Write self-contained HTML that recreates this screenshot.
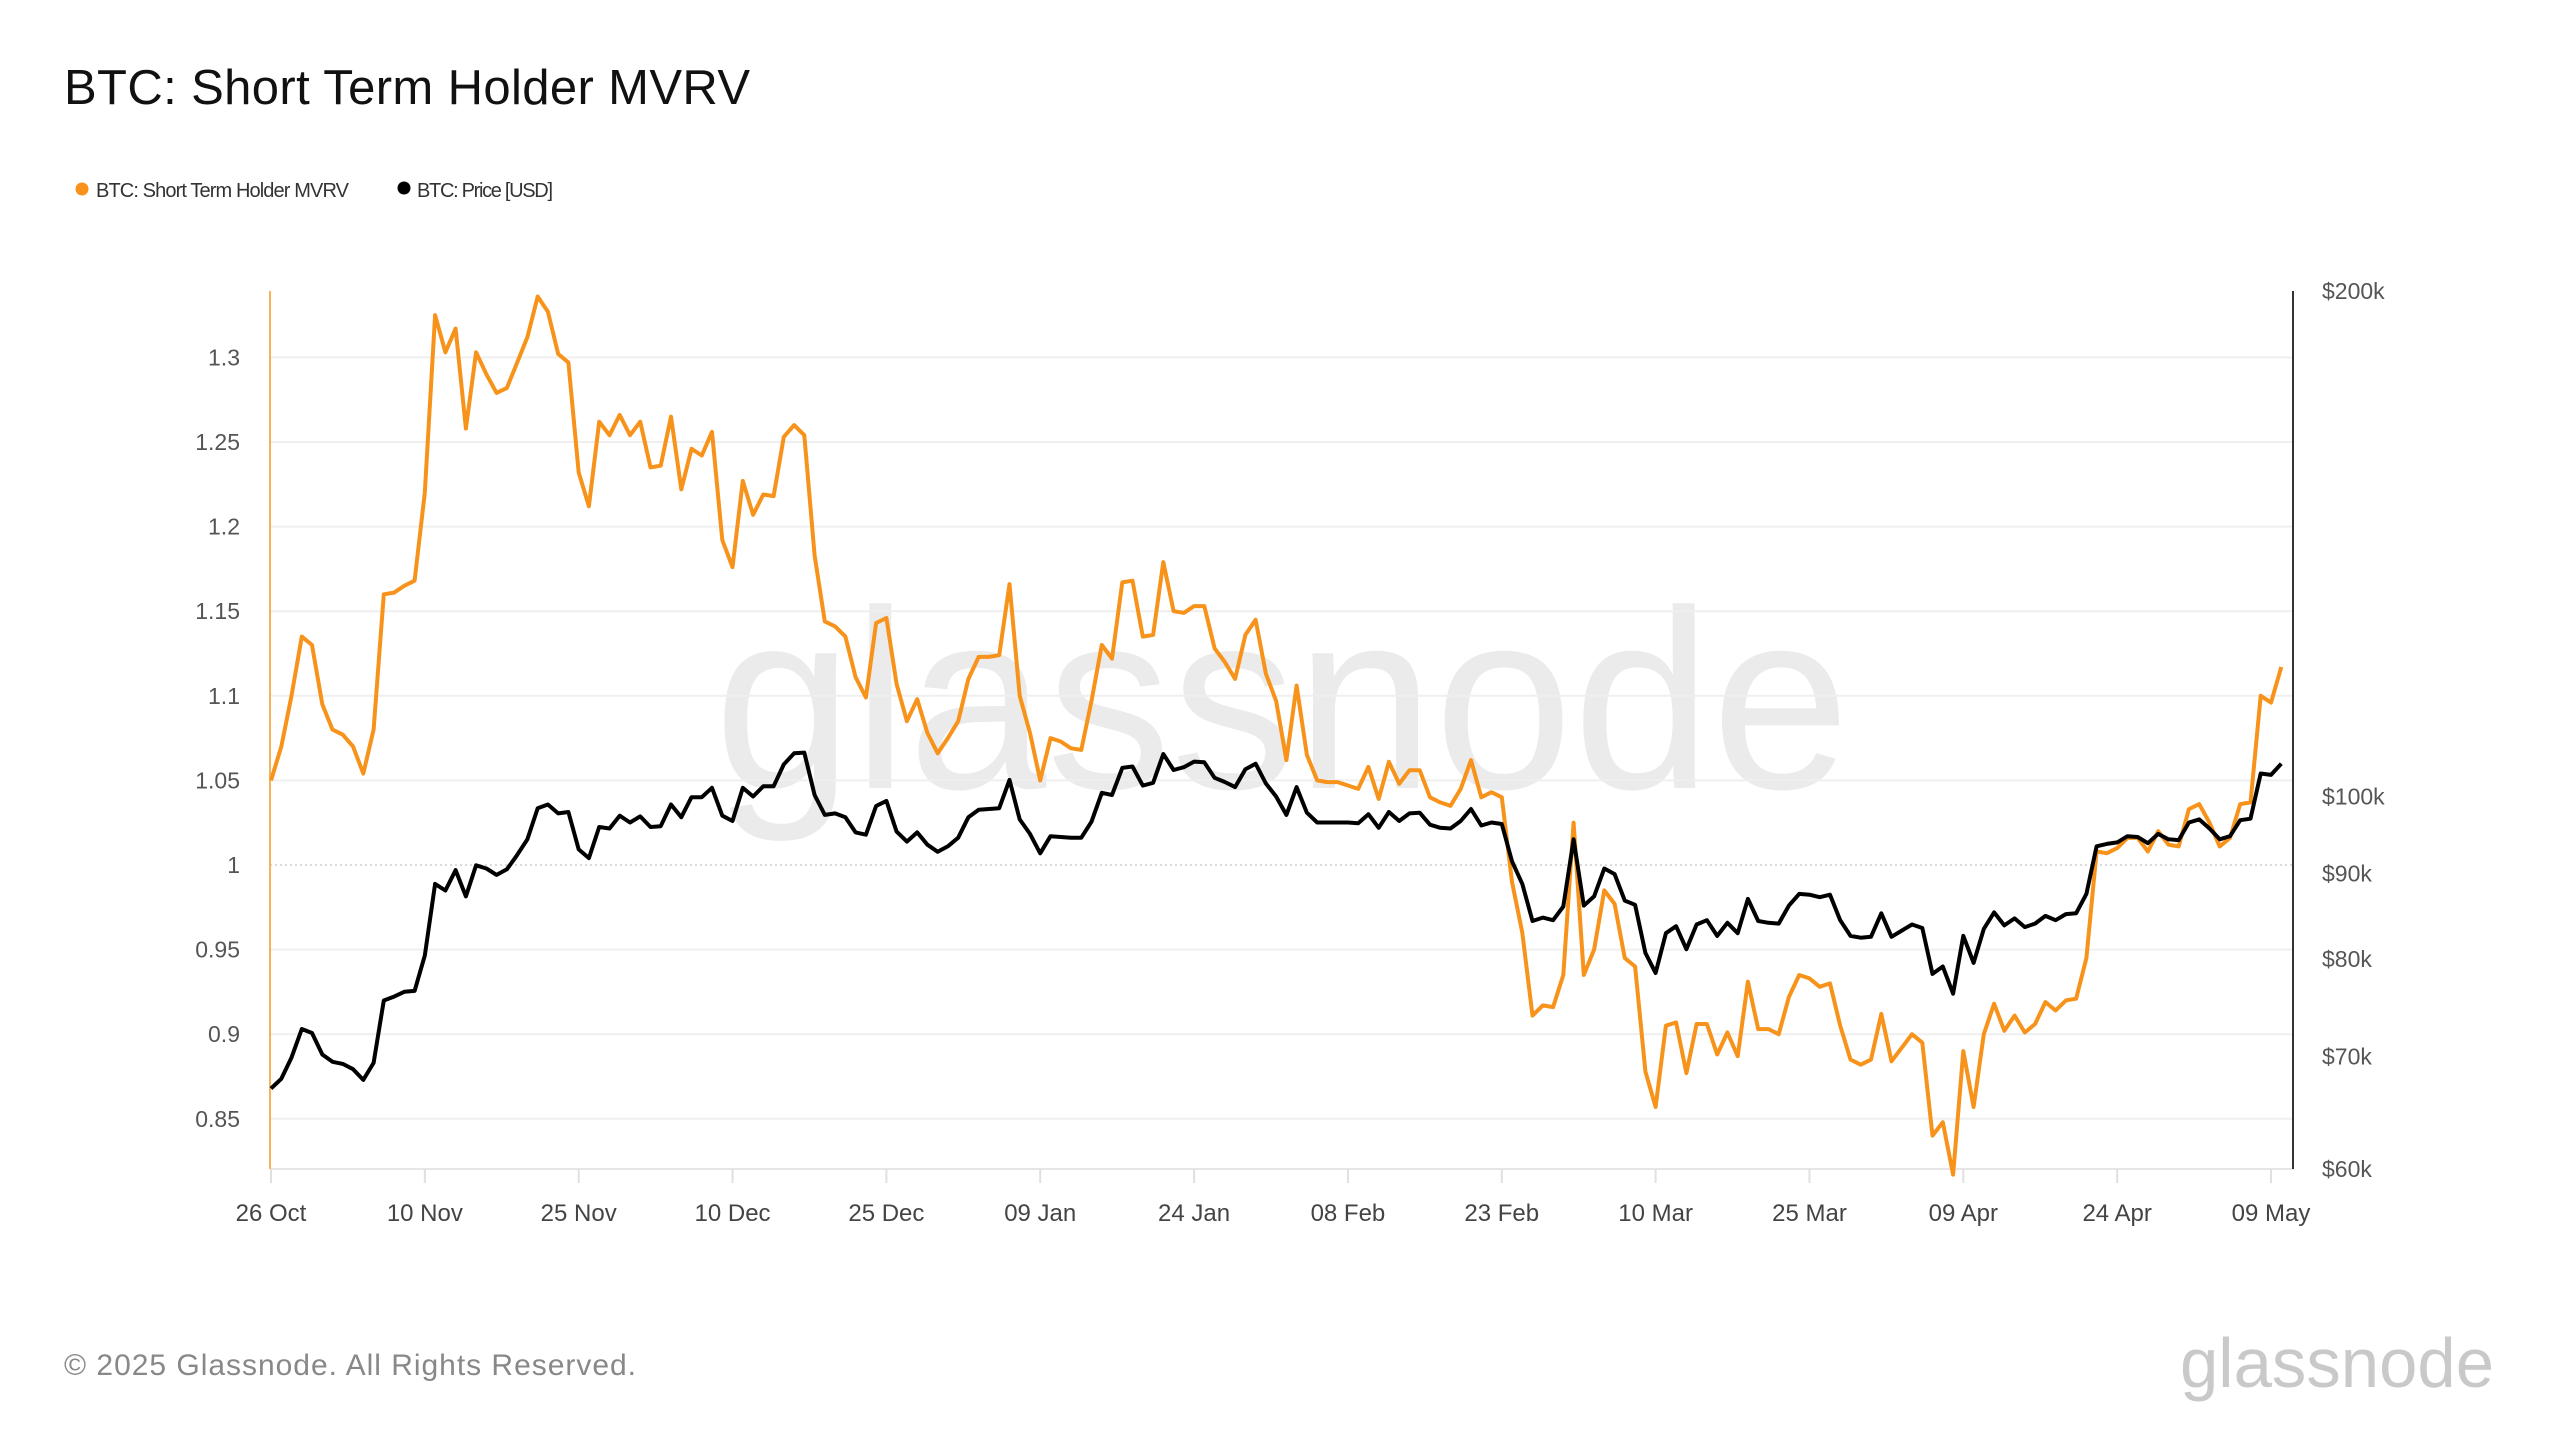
<!DOCTYPE html>
<html><head><meta charset="utf-8"><style>
html,body{margin:0;padding:0;background:#fff;}
svg{display:block;font-family:"Liberation Sans",sans-serif;}
</style></head><body>
<svg id="chart" width="2560" height="1440" viewBox="0 0 2560 1440">
<text x="64" y="104" font-size="49" fill="#111" textLength="686">BTC: Short Term Holder MVRV</text>
<g>
<g><circle cx="82" cy="189" r="6.5" fill="#f7931a"/><text x="96" y="197" font-size="20" fill="#333" textLength="253">BTC: Short Term Holder MVRV</text></g>
<g><circle cx="404" cy="188" r="6.5" fill="#000"/><text x="417" y="197" font-size="20" fill="#333" textLength="136">BTC: Price [USD]</text></g>
</g>
<text x="1282" y="788" font-size="255" fill="#ebebeb" textLength="1136" text-anchor="middle" lengthAdjust="spacingAndGlyphs">glassnode</text>
<g id="grid"></g>
<g id="axes"></g>
<g id="series"></g>
<text x="64" y="1375" font-size="30" fill="#888" textLength="572">© 2025 Glassnode. All Rights Reserved.</text>
<text x="2180" y="1387" font-size="70" fill="#c9c9c9" textLength="314" lengthAdjust="spacingAndGlyphs">glassnode</text>
</svg>
<script>
const dateLabels=["26 Oct","10 Nov","25 Nov","10 Dec","25 Dec","09 Jan","24 Jan","08 Feb","23 Feb","10 Mar","25 Mar","09 Apr","24 Apr","09 May"];
const leftTicks=[0.85,0.9,0.95,1,1.05,1.1,1.15,1.2,1.25,1.3];
const leftTickLabels=["0.85","0.9","0.95","1","1.05","1.1","1.15","1.2","1.25","1.3"];
const rightTicks=[60,70,80,90,100,200];
const rightTickLabels=["$60k","$70k","$80k","$90k","$100k","$200k"];
const mvrv=[1.05,1.07,1.10,1.135,1.13,1.095,1.08,1.077,1.07,1.054,1.08,1.16,1.161,1.165,1.168,1.22,1.325,1.303,1.317,1.258,1.303,1.29,1.279,1.282,1.297,1.312,1.336,1.327,1.302,1.297,1.232,1.212,1.262,1.254,1.266,1.254,1.262,1.235,1.236,1.265,1.222,1.246,1.242,1.256,1.192,1.176,1.227,1.207,1.219,1.218,1.253,1.26,1.254,1.183,1.144,1.141,1.135,1.111,1.099,1.143,1.146,1.107,1.085,1.098,1.078,1.066,1.075,1.085,1.11,1.123,1.123,1.124,1.166,1.10,1.078,1.05,1.075,1.073,1.069,1.068,1.097,1.13,1.122,1.167,1.168,1.135,1.136,1.179,1.15,1.149,1.153,1.153,1.128,1.12,1.11,1.136,1.145,1.113,1.097,1.062,1.106,1.065,1.05,1.049,1.049,1.047,1.045,1.058,1.039,1.061,1.048,1.056,1.056,1.04,1.037,1.035,1.045,1.062,1.04,1.043,1.04,0.99,0.96,0.911,0.917,0.916,0.935,1.025,0.935,0.95,0.985,0.977,0.945,0.94,0.878,0.857,0.905,0.907,0.877,0.906,0.906,0.888,0.901,0.887,0.931,0.903,0.903,0.9,0.922,0.935,0.933,0.928,0.93,0.905,0.885,0.882,0.885,0.912,0.884,0.892,0.9,0.895,0.84,0.848,0.817,0.89,0.857,0.9,0.918,0.902,0.911,0.901,0.906,0.919,0.914,0.92,0.921,0.945,1.008,1.007,1.01,1.016,1.016,1.008,1.02,1.012,1.011,1.033,1.036,1.025,1.011,1.016,1.036,1.037,1.1,1.096,1.117];
const priceK=[67.0,67.9,69.9,72.7,72.3,70.2,69.5,69.3,68.8,67.8,69.4,75.6,76.0,76.5,76.6,80.4,88.7,87.9,90.4,87.2,91.0,90.6,89.8,90.5,92.3,94.3,98.4,98.9,97.7,97.9,93.0,91.9,95.9,95.7,97.4,96.5,97.3,95.9,96.0,98.9,97.2,99.9,99.9,101.2,97.4,96.7,101.2,100.0,101.4,101.4,104.5,106.1,106.2,100.2,97.5,97.7,97.2,95.2,94.9,98.7,99.4,95.3,94.0,95.2,93.6,92.7,93.4,94.5,97.2,98.2,98.3,98.4,102.3,96.9,95.0,92.5,94.7,94.6,94.5,94.5,96.6,100.5,100.2,104.0,104.2,101.5,101.9,106.0,103.7,104.1,104.9,104.8,102.6,102.0,101.3,103.8,104.6,101.8,100.0,97.5,101.3,97.8,96.5,96.5,96.5,96.5,96.4,97.6,95.8,97.9,96.7,97.7,97.8,96.2,95.8,95.7,96.7,98.3,96.1,96.5,96.3,91.5,88.7,84.3,84.7,84.4,86.0,94.3,86.1,87.2,90.6,89.9,86.7,86.2,80.7,78.5,82.9,83.7,81.1,83.9,84.4,82.6,84.1,82.9,86.9,84.3,84.1,84.0,86.1,87.5,87.4,87.1,87.4,84.4,82.6,82.4,82.5,85.2,82.5,83.2,83.9,83.5,78.4,79.2,76.3,82.6,79.6,83.4,85.3,83.8,84.6,83.6,84.0,84.9,84.4,85.1,85.2,87.5,93.4,93.7,93.9,94.7,94.6,93.8,95.0,94.3,94.2,96.5,96.9,95.7,94.3,94.7,96.8,97.0,103.2,103.0,104.6];

const NS="http://www.w3.org/2000/svg";
const X0=271, DAYPX=(2271-271)/195, TOP=291, BOT=1169, LEFT=270, RIGHT=2293;
function xAt(d){return X0+d*DAYPX;}
function yL(v){return 865-(v-1)/0.05*84.6;}
function yR(p){return TOP+(BOT-TOP)*Math.log(200/p)/Math.log(200/60);}
function mk(tag,attrs,parent){const e=document.createElementNS(NS,tag);for(const k in attrs)e.setAttribute(k,attrs[k]);parent.appendChild(e);return e;}
const grid=document.getElementById('grid'),axes=document.getElementById('axes'),series=document.getElementById('series');

leftTicks.forEach((v,i)=>{
  const y=yL(v);
  const g=mk('line',{x1:LEFT,x2:RIGHT,y1:y,y2:y,stroke:v===1?'#cfcfcf':'#efefef','stroke-width':v===1?1.5:2,'stroke-dasharray':v===1?'2 3':'none'},grid);
  
  
  const t=mk('text',{x:240,y:y+8,'font-size':23,fill:'#555','text-anchor':'end'},axes);
  t.textContent=leftTickLabels[i];
  
  
});
rightTicks.forEach((p,i)=>{
  const t=mk('text',{x:2322,y:yR(p)+8,'font-size':23,fill:'#555'},axes);
  t.textContent=rightTickLabels[i];
  
  
});
const xa=mk('line',{x1:LEFT,x2:RIGHT,y1:BOT,y2:BOT,stroke:'#e6e6e6','stroke-width':2},axes);


dateLabels.forEach((s,i)=>{
  const x=xAt(i*15);
  mk('line',{x1:x,x2:x,y1:BOT,y2:BOT+14,stroke:'#e0e0e0','stroke-width':2},axes);
  const t=mk('text',{x:x,y:1221,'font-size':24,fill:'#444','text-anchor':'middle'},axes);
  t.textContent=s;
  
  
});
const la=mk('line',{x1:LEFT,x2:LEFT,y1:TOP,y2:BOT,stroke:'#f7b35a','stroke-width':2},axes);


const ra=mk('line',{x1:RIGHT,x2:RIGHT,y1:TOP,y2:BOT,stroke:'#333','stroke-width':2},axes);



const mp=mk('polyline',{points:mvrv.map((v,i)=>xAt(i).toFixed(1)+','+yL(v).toFixed(1)).join(' '),fill:'none',stroke:'#f7931a','stroke-width':4,'stroke-linejoin':'round'},series);


const pp=mk('polyline',{points:priceK.map((p,i)=>xAt(i).toFixed(1)+','+yR(p).toFixed(1)).join(' '),fill:'none',stroke:'#000','stroke-width':4,'stroke-linejoin':'round'},series);


</script>
</body></html>
